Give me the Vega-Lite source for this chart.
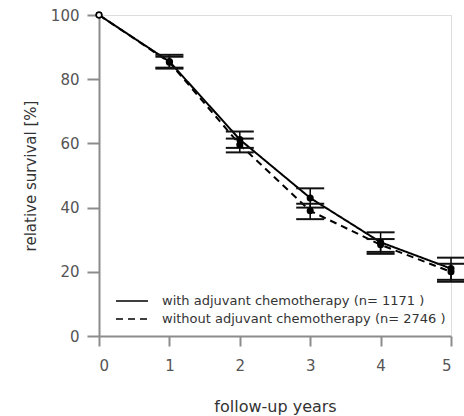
{
  "$schema": "https://vega.github.io/schema/vega-lite/v6.json",
  "width": 352,
  "height": 321,
  "autosize": "none",
  "padding": {"left": 99, "top": 15, "right": 13, "bottom": 80},
  "background": "white",
  "data": {
    "values": [
      {"group": "with adjuvant chemotherapy (n= 1171 )", "year": 0, "value": 100, "lo": 100, "hi": 100},
      {"group": "with adjuvant chemotherapy (n= 1171 )", "year": 1, "value": 85.5, "lo": 83.3, "hi": 87.6},
      {"group": "with adjuvant chemotherapy (n= 1171 )", "year": 2, "value": 61.2, "lo": 58.6, "hi": 63.7},
      {"group": "with adjuvant chemotherapy (n= 1171 )", "year": 3, "value": 43, "lo": 40, "hi": 46},
      {"group": "with adjuvant chemotherapy (n= 1171 )", "year": 4, "value": 29.2, "lo": 26.2, "hi": 32.3},
      {"group": "with adjuvant chemotherapy (n= 1171 )", "year": 5, "value": 21, "lo": 17.5, "hi": 24.4},
      {"group": "without adjuvant chemotherapy (n= 2746 )", "year": 0, "value": 100, "lo": 100, "hi": 100},
      {"group": "without adjuvant chemotherapy (n= 2746 )", "year": 1, "value": 85.3, "lo": 83.6, "hi": 87},
      {"group": "without adjuvant chemotherapy (n= 2746 )", "year": 2, "value": 59.6, "lo": 57.2, "hi": 61.5},
      {"group": "without adjuvant chemotherapy (n= 2746 )", "year": 3, "value": 39, "lo": 36.4, "hi": 41.2},
      {"group": "without adjuvant chemotherapy (n= 2746 )", "year": 4, "value": 28.4, "lo": 25.6, "hi": 30.2},
      {"group": "without adjuvant chemotherapy (n= 2746 )", "year": 5, "value": 20, "lo": 16.9, "hi": 22.5}
    ]
  },
  "encoding": {
    "x": {
      "field": "year", "type": "quantitative",
      "scale": {"domain": [0, 5], "nice": false, "zero": false},
      "axis": {
        "values": [0, 1, 2, 3, 4, 5], "title": "follow-up years", "grid": false,
        "domainColor": "#8c8c8c", "domainWidth": 2, "tickColor": "#8c8c8c", "tickWidth": 2, "tickSize": 10,
        "labelFont": "DejaVu Sans", "labelFontSize": 15, "labelColor": "#555555", "labelPadding": 12,
        "titleFont": "DejaVu Sans", "titleFontSize": 16, "titleFontWeight": "normal", "titleColor": "#333333", "titlePadding": 25
      }
    },
    "y": {
      "field": "value", "type": "quantitative",
      "scale": {"domain": [0, 100], "nice": false},
      "axis": {
        "values": [0, 20, 40, 60, 80, 100], "title": "relative survival [%]", "grid": false,
        "domainColor": "#8c8c8c", "domainWidth": 2, "tickColor": "#8c8c8c", "tickWidth": 2, "tickSize": 12,
        "labelFont": "DejaVu Sans", "labelFontSize": 15, "labelColor": "#555555", "labelPadding": 8,
        "titleFont": "DejaVu Sans", "titleFontSize": 15, "titleFontWeight": "normal", "titleColor": "#333333", "titlePadding": 12
      }
    }
  },
  "layer": [
    {
      "mark": {"type": "line", "color": "black", "strokeWidth": 2, "interpolate": "linear"},
      "encoding": {
        "strokeDash": {
          "field": "group", "type": "nominal",
          "scale": {"range": [[1, 0], [7, 5]]},
          "legend": {
            "title": null, "orient": "none", "legendX": 24, "legendY": 277,
            "symbolType": "M-2,0H2", "symbolSize": 256, "symbolStrokeColor": "black", "symbolStrokeWidth": 1.5,
            "labelFont": "DejaVu Sans", "labelFontSize": 13, "labelColor": "#333333", "labelOffset": 21,
            "labelLimit": 0, "rowPadding": 2
          }
        }
      }
    },
    {
      "transform": [{"filter": "datum.year > 0"}],
      "mark": {"type": "rule", "color": "black", "strokeWidth": 1.5},
      "encoding": {"y": {"field": "lo", "type": "quantitative"}, "y2": {"field": "hi"}, "detail": {"field": "group"}}
    },
    {
      "transform": [{"filter": "datum.year > 0"}],
      "mark": {"type": "tick", "orient": "horizontal", "color": "#111111", "opacity": 1, "thickness": 2, "size": 28},
      "encoding": {"y": {"field": "lo", "type": "quantitative"}}
    },
    {
      "transform": [{"filter": "datum.year > 0"}],
      "mark": {"type": "tick", "orient": "horizontal", "color": "#111111", "opacity": 1, "thickness": 2, "size": 28},
      "encoding": {"y": {"field": "hi", "type": "quantitative"}}
    },
    {
      "transform": [{"filter": "datum.year > 0"}],
      "mark": {"type": "point", "filled": true, "color": "black", "size": 50, "opacity": 1}
    },
    {
      "transform": [{"filter": "datum.year == 0"}],
      "mark": {"type": "point", "filled": true, "fill": "white", "stroke": "black", "strokeWidth": 1.5, "size": 30, "opacity": 1}
    }
  ]
}
